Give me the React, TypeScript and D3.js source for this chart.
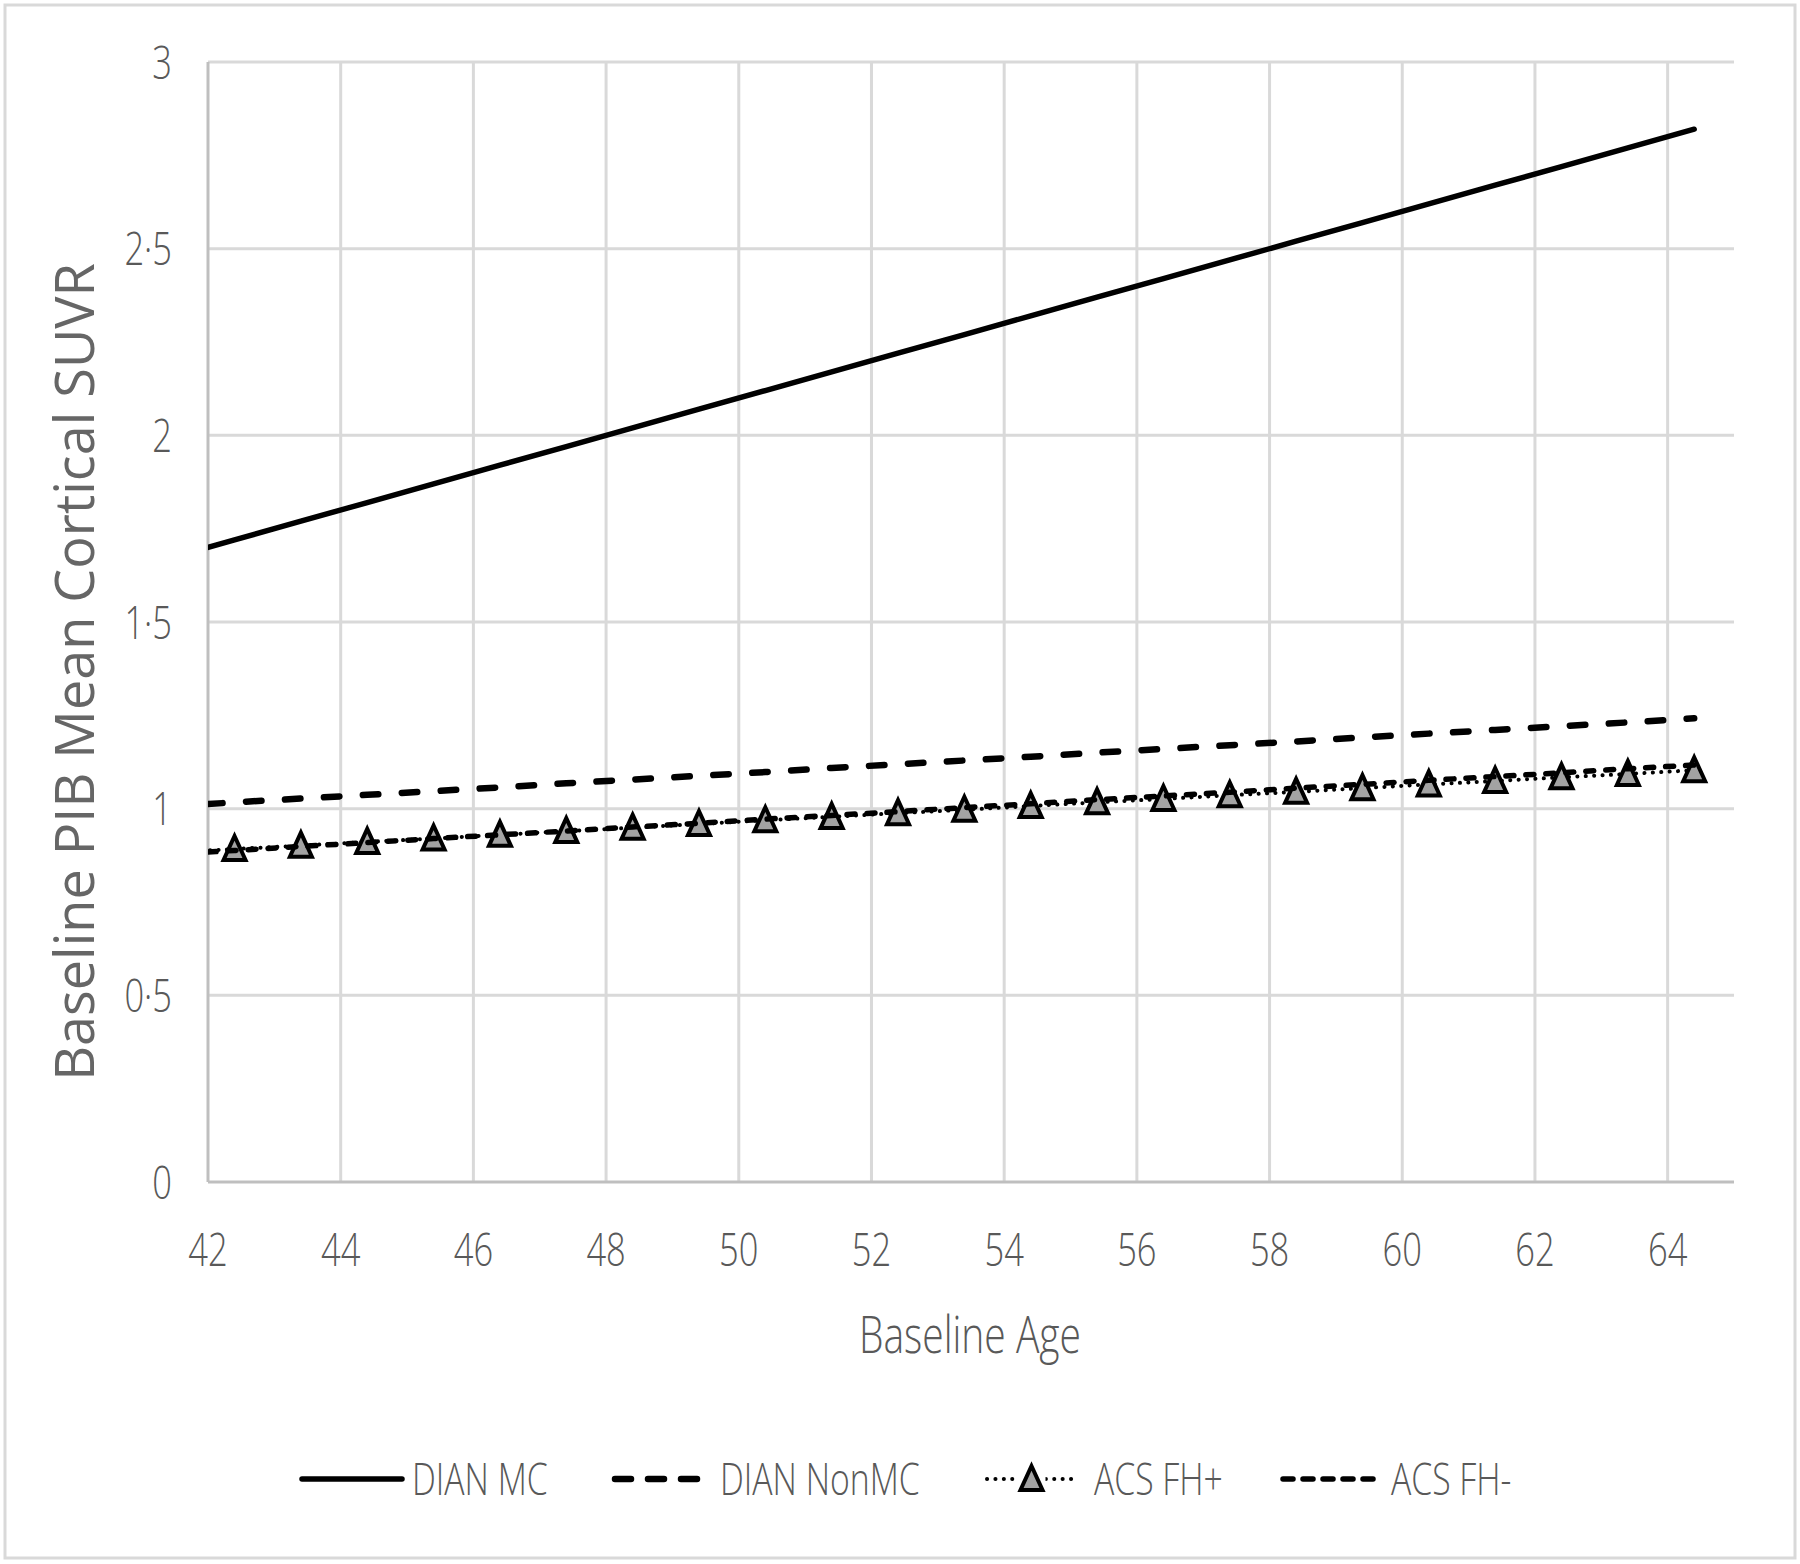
import React from "react";
import * as d3 from "d3";

const ages = [41.4, 42.4, 43.4, 44.4, 45.4, 46.4, 47.4, 48.4, 49.4, 50.4, 51.4, 52.4, 53.4, 54.4, 55.4, 56.4, 57.4, 58.4, 59.4, 60.4, 61.4, 62.4, 63.4, 64.4];
const dianMC = [1.67, 1.72, 1.77, 1.82, 1.87, 1.92, 1.97, 2.02, 2.07, 2.12, 2.17, 2.22, 2.27, 2.32, 2.37, 2.42, 2.47, 2.52, 2.57, 2.62, 2.67, 2.72, 2.77, 2.82];
const dianNonMC = [1.005, 1.017, 1.027, 1.037, 1.047, 1.057, 1.068, 1.078, 1.088, 1.098, 1.109, 1.119, 1.129, 1.139, 1.15, 1.16, 1.17, 1.18, 1.191, 1.201, 1.211, 1.221, 1.231, 1.242];
const acsFHplus = [0.882, 0.892, 0.901, 0.911, 0.92, 0.93, 0.94, 0.949, 0.959, 0.969, 0.978, 0.988, 0.997, 1.007, 1.017, 1.026, 1.036, 1.045, 1.055, 1.065, 1.074, 1.084, 1.093, 1.103];
const acsFHminus = [0.878, 0.888, 0.899, 0.909, 0.92, 0.93, 0.94, 0.951, 0.961, 0.972, 0.982, 0.992, 1.003, 1.013, 1.024, 1.034, 1.044, 1.055, 1.065, 1.076, 1.086, 1.096, 1.107, 1.117];

const xTicks = [42, 44, 46, 48, 50, 52, 54, 56, 58, 60, 62, 64];
const yTicks = [0, 0.5, 1, 1.5, 2, 2.5, 3];
const yTickLabels = ["0", "0·5", "1", "1·5", "2", "2·5", "3"];
const seriesNames = ["DIAN MC", "DIAN NonMC", "ACS FH+", "ACS FH-"];

const W = 1800;
const H = 1564;
const plot = { left: 208, right: 1734, top: 62, bottom: 1182 };
const font = "'Open Sans', sans-serif";
const textColor = "#595959";
const K = 0.75;

function NText({ x, y, size, anchor = "start", children }: { x: number; y: number; size: number; anchor?: string; children: React.ReactNode }) {
  return (
    <text
      transform={`translate(${x},${y}) scale(${K},1)`}
      dy="0.36em"
      textAnchor={anchor as any}
      fontFamily={font}
      fontWeight={300}
      fontSize={size}
      fill={textColor}
    >
      {children}
    </text>
  );
}

export default function App() {
  const x = d3.scaleLinear().domain([42, 65]).range([plot.left, plot.right]);
  const y = d3.scaleLinear().domain([0, 3]).range([plot.bottom, plot.top]);
  const mk = (vals: number[]) =>
    d3.line<number>().x((_, i) => x(ages[i])).y((v) => y(v))(vals) || "";
  const tri = "M0,-13 L11,11 L-11,11 Z";

  const legendY = 1479;
  const legend = [
    { x0: 302, x1: 402, tx: 412 },
    { x0: 611, x1: 706, tx: 720 },
    { x0: 984, x1: 1079, tx: 1094 },
    { x0: 1280, x1: 1381, tx: 1391 },
  ];

  return (
    <svg width={W} height={H} style={{ position: "absolute", left: 0, top: 0, background: "#fff" }}>
      <rect x={0} y={0} width={W} height={H} fill="#fff" />
      <rect x={5} y={5} width={1790} height={1553} fill="none" stroke="#d9d9d9" strokeWidth={3} />
      <defs>
        <clipPath id="plotClip">
          <rect x={plot.left} y={plot.top - 20} width={plot.right - plot.left} height={plot.bottom - plot.top + 40} />
        </clipPath>
      </defs>
      {/* gridlines */}
      {yTicks.filter((t) => t > 0).map((t) => (
        <line key={"gy" + t} x1={plot.left} x2={plot.right} y1={y(t)} y2={y(t)} stroke="#d9d9d9" strokeWidth={3} />
      ))}
      {xTicks.filter((t) => t > 42).map((t) => (
        <line key={"gx" + t} x1={x(t)} x2={x(t)} y1={plot.top} y2={plot.bottom} stroke="#d9d9d9" strokeWidth={3} />
      ))}
      {/* axes */}
      <line x1={plot.left} x2={plot.left} y1={plot.top} y2={plot.bottom} stroke="#bfbfbf" strokeWidth={3} />
      <line x1={plot.left} x2={plot.right} y1={plot.bottom} y2={plot.bottom} stroke="#bfbfbf" strokeWidth={3} />
      {/* tick labels */}
      {yTicks.map((t, i) => (
        <NText key={"ty" + t} x={172} y={y(t)} size={46} anchor="end">
          {yTickLabels[i]}
        </NText>
      ))}
      {xTicks.map((t) => (
        <NText key={"tx" + t} x={x(t)} y={1249} size={46} anchor="middle">
          {t}
        </NText>
      ))}
      {/* axis titles */}
      <NText x={970} y={1334} size={52} anchor="middle">
        Baseline Age
      </NText>
      <text transform="translate(75,672) rotate(-90)" dy="0.36em" textAnchor="middle" fontFamily={font} fontSize={54} fill="#666666">
        Baseline PIB Mean Cortical SUVR
      </text>
      {/* series */}
      <g clipPath="url(#plotClip)">
        <path d={mk(dianMC)} fill="none" stroke="#000" strokeWidth={5.5} strokeLinecap="round" strokeLinejoin="round" />
        <path d={mk(dianNonMC)} fill="none" stroke="#000" strokeWidth={6.5} strokeLinecap="round" strokeDasharray="15.5 23.5" />
        <path d={mk(acsFHplus)} fill="none" stroke="#000" strokeWidth={4} strokeLinecap="round" strokeDasharray="0.1 8.3" />
        {ages.map((a, i) => (
          <path key={"m" + i} d={tri} transform={`translate(${x(a)},${y(acsFHplus[i])})`} fill="#a3a3a3" stroke="#000" strokeWidth={4} strokeLinejoin="miter" />
        ))}
        <path d={mk(acsFHminus)} fill="none" stroke="#000" strokeWidth={5.5} strokeLinecap="round" strokeDasharray="8 12" />
      </g>
      {/* legend */}
      <line x1={legend[0].x0} x2={legend[0].x1} y1={legendY} y2={legendY} stroke="#000" strokeWidth={5.5} strokeLinecap="round" />
      <line x1={legend[1].x0 + 4} x2={legend[1].x1} y1={legendY} y2={legendY} stroke="#000" strokeWidth={6.5} strokeLinecap="round" strokeDasharray="16 17" />
      <line x1={legend[2].x0 + 3} x2={legend[2].x1} y1={legendY} y2={legendY} stroke="#000" strokeWidth={4} strokeLinecap="round" strokeDasharray="0.1 8.3" />
      <rect x={(legend[2].x0 + legend[2].x1) / 2 - 14} y={legendY - 16} width={28} height={32} fill="#fff" />
      <path d={tri} transform={`translate(${(legend[2].x0 + legend[2].x1) / 2},${legendY})`} fill="#a3a3a3" stroke="#000" strokeWidth={4} />
      <line x1={legend[3].x0 + 3} x2={legend[3].x1} y1={legendY} y2={legendY} stroke="#000" strokeWidth={5.5} strokeLinecap="round" strokeDasharray="10 10" />
      {seriesNames.map((n, i) => (
        <NText key={n} x={legend[i].tx} y={legendY} size={45}>
          {n}
        </NText>
      ))}
    </svg>
  );
}
